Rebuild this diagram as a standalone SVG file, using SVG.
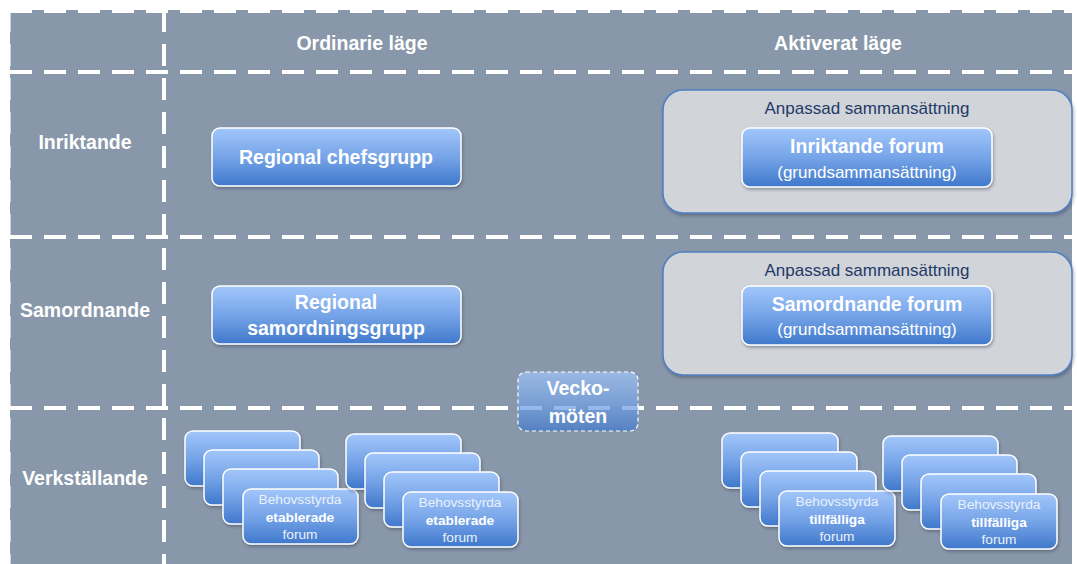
<svg xmlns="http://www.w3.org/2000/svg" width="1077" height="564" viewBox="0 0 1077 564">
<style>
.hdr{font-family:"Liberation Sans",Arial,sans-serif;font-weight:bold;font-size:19.5px;fill:#fff;text-anchor:middle}
.bt{font-family:"Liberation Sans",Arial,sans-serif;font-weight:bold;font-size:19.5px;fill:#fff;text-anchor:middle}
.st{font-family:"Liberation Sans",Arial,sans-serif;font-size:17px;fill:#fff;text-anchor:middle}
.an{font-family:"Liberation Sans",Arial,sans-serif;font-size:17px;fill:#1F3A68;text-anchor:middle}
.sm{font-family:"Liberation Sans",Arial,sans-serif;font-size:13.7px;fill:#EAF1FB;text-anchor:middle}
.smb{font-family:"Liberation Sans",Arial,sans-serif;font-size:13.7px;font-weight:bold;fill:#fff;text-anchor:middle}
.dash{stroke:#fff;stroke-width:4;stroke-dasharray:22 12;fill:none}
.box{fill:url(#g);stroke:#fff;stroke-width:1.5;filter:url(#sh)}
.grp{fill:#D1D4D9;stroke:#4F7FC0;stroke-width:1.5;filter:url(#sh)}
</style>
<defs>
<linearGradient id="g" x1="0" y1="0" x2="0" y2="1">
<stop offset="0" stop-color="#A2C6FA"/>
<stop offset="0.5" stop-color="#76A4E8"/>
<stop offset="1" stop-color="#3F78CB"/>
</linearGradient>
<filter id="sh" x="-10%" y="-10%" width="130%" height="140%">
<feDropShadow dx="1" dy="2" stdDeviation="1.5" flood-color="#334" flood-opacity="0.4"/>
</filter>
</defs>
<rect x="0" y="0" width="1077" height="564" fill="#fff"/>
<rect x="10" y="10" width="1062" height="554" fill="#8898AA"/>
<g id="grid">
<line class="dash" x1="10" y1="11" x2="1072" y2="11"/>
<line class="dash" x1="9" y1="10" x2="9" y2="564" stroke-opacity="0.6"/>
<line class="dash" x1="10" y1="72" x2="1072" y2="72"/>
<line class="dash" x1="10" y1="237" x2="1072" y2="237"/>
<line class="dash" x1="10" y1="408" x2="1072" y2="408"/>
<line class="dash" x1="164" y1="10" x2="164" y2="564"/>
</g>
<g id="headers">
<text class="hdr" x="362" y="50">Ordinarie läge</text>
<text class="hdr" x="838" y="50">Aktiverat läge</text>
<text class="hdr" x="85" y="149">Inriktande</text>
<text class="hdr" x="85" y="317">Samordnande</text>
<text class="hdr" x="85" y="485">Verkställande</text>
</g>
<g id="regional-chefsgrupp">
<rect class="box" x="212" y="128" width="249" height="58" rx="8"/>
<text class="bt" x="336" y="164">Regional chefsgrupp</text>
</g>
<g id="regional-samordningsgrupp">
<rect class="box" x="212" y="286" width="249" height="58" rx="8"/>
<text class="bt" x="336" y="309">Regional</text>
<text class="bt" x="336" y="335">samordningsgrupp</text>
</g>
<g id="inriktande-forum">
<rect class="grp" x="663" y="90" width="409" height="123" rx="20"/>
<text class="an" x="867" y="114">Anpassad sammansättning</text>
<rect class="box" x="742" y="128" width="250" height="59" rx="8"/>
<text class="bt" x="867" y="153">Inriktande forum</text>
<text class="st" x="867" y="178">(grundsammansättning)</text>
</g>
<g id="samordnande-forum">
<rect class="grp" x="663" y="252" width="409" height="123" rx="20"/>
<text class="an" x="867" y="276">Anpassad sammansättning</text>
<rect class="box" x="742" y="286" width="250" height="59" rx="8"/>
<text class="bt" x="867" y="311">Samordnande forum</text>
<text class="st" x="867" y="335">(grundsammansättning)</text>
</g>
<g id="veckomoten">
<rect x="518" y="372" width="120" height="59" rx="8" fill="url(#g)" fill-opacity="0.7" stroke="#fff" stroke-width="1.2" stroke-dasharray="4 3"/>
<text class="bt" x="578" y="395">Vecko-</text>
<text class="bt" x="578" y="423">möten</text>
</g>
<g id="etablerade-1">
<rect class="box" x="185" y="431" width="115" height="55" rx="8"/>
<rect class="box" x="204" y="450" width="115" height="55" rx="8"/>
<rect class="box" x="223" y="469" width="115" height="55" rx="8"/>
<rect class="box" x="243" y="489" width="115" height="55" rx="8"/>
<text class="sm" x="300" y="504">Behovsstyrda</text>
<text class="smb" x="300" y="522">etablerade</text>
<text class="sm" x="300" y="539">forum</text>
</g>
<g id="etablerade-2">
<rect class="box" x="346" y="434" width="115" height="55" rx="8"/>
<rect class="box" x="365" y="453" width="115" height="55" rx="8"/>
<rect class="box" x="384" y="472" width="115" height="55" rx="8"/>
<rect class="box" x="403" y="492" width="115" height="55" rx="8"/>
<text class="sm" x="460" y="507">Behovsstyrda</text>
<text class="smb" x="460" y="525">etablerade</text>
<text class="sm" x="460" y="542">forum</text>
</g>
<g id="tillfalliga-1">
<rect class="box" x="722" y="433" width="116" height="55" rx="8"/>
<rect class="box" x="741" y="452" width="116" height="55" rx="8"/>
<rect class="box" x="760" y="471" width="116" height="55" rx="8"/>
<rect class="box" x="779" y="491" width="116" height="55" rx="8"/>
<text class="sm" x="837" y="506">Behovsstyrda</text>
<text class="smb" x="837" y="524">tillfälliga</text>
<text class="sm" x="837" y="541">forum</text>
</g>
<g id="tillfalliga-2">
<rect class="box" x="883" y="436" width="115" height="55" rx="8"/>
<rect class="box" x="902" y="455" width="115" height="55" rx="8"/>
<rect class="box" x="921" y="474" width="115" height="55" rx="8"/>
<rect class="box" x="941" y="494" width="116" height="55" rx="8"/>
<text class="sm" x="999" y="509">Behovsstyrda</text>
<text class="smb" x="999" y="527">tillfälliga</text>
<text class="sm" x="999" y="544">forum</text>
</g>
<g id="connectors"/>
</svg>
